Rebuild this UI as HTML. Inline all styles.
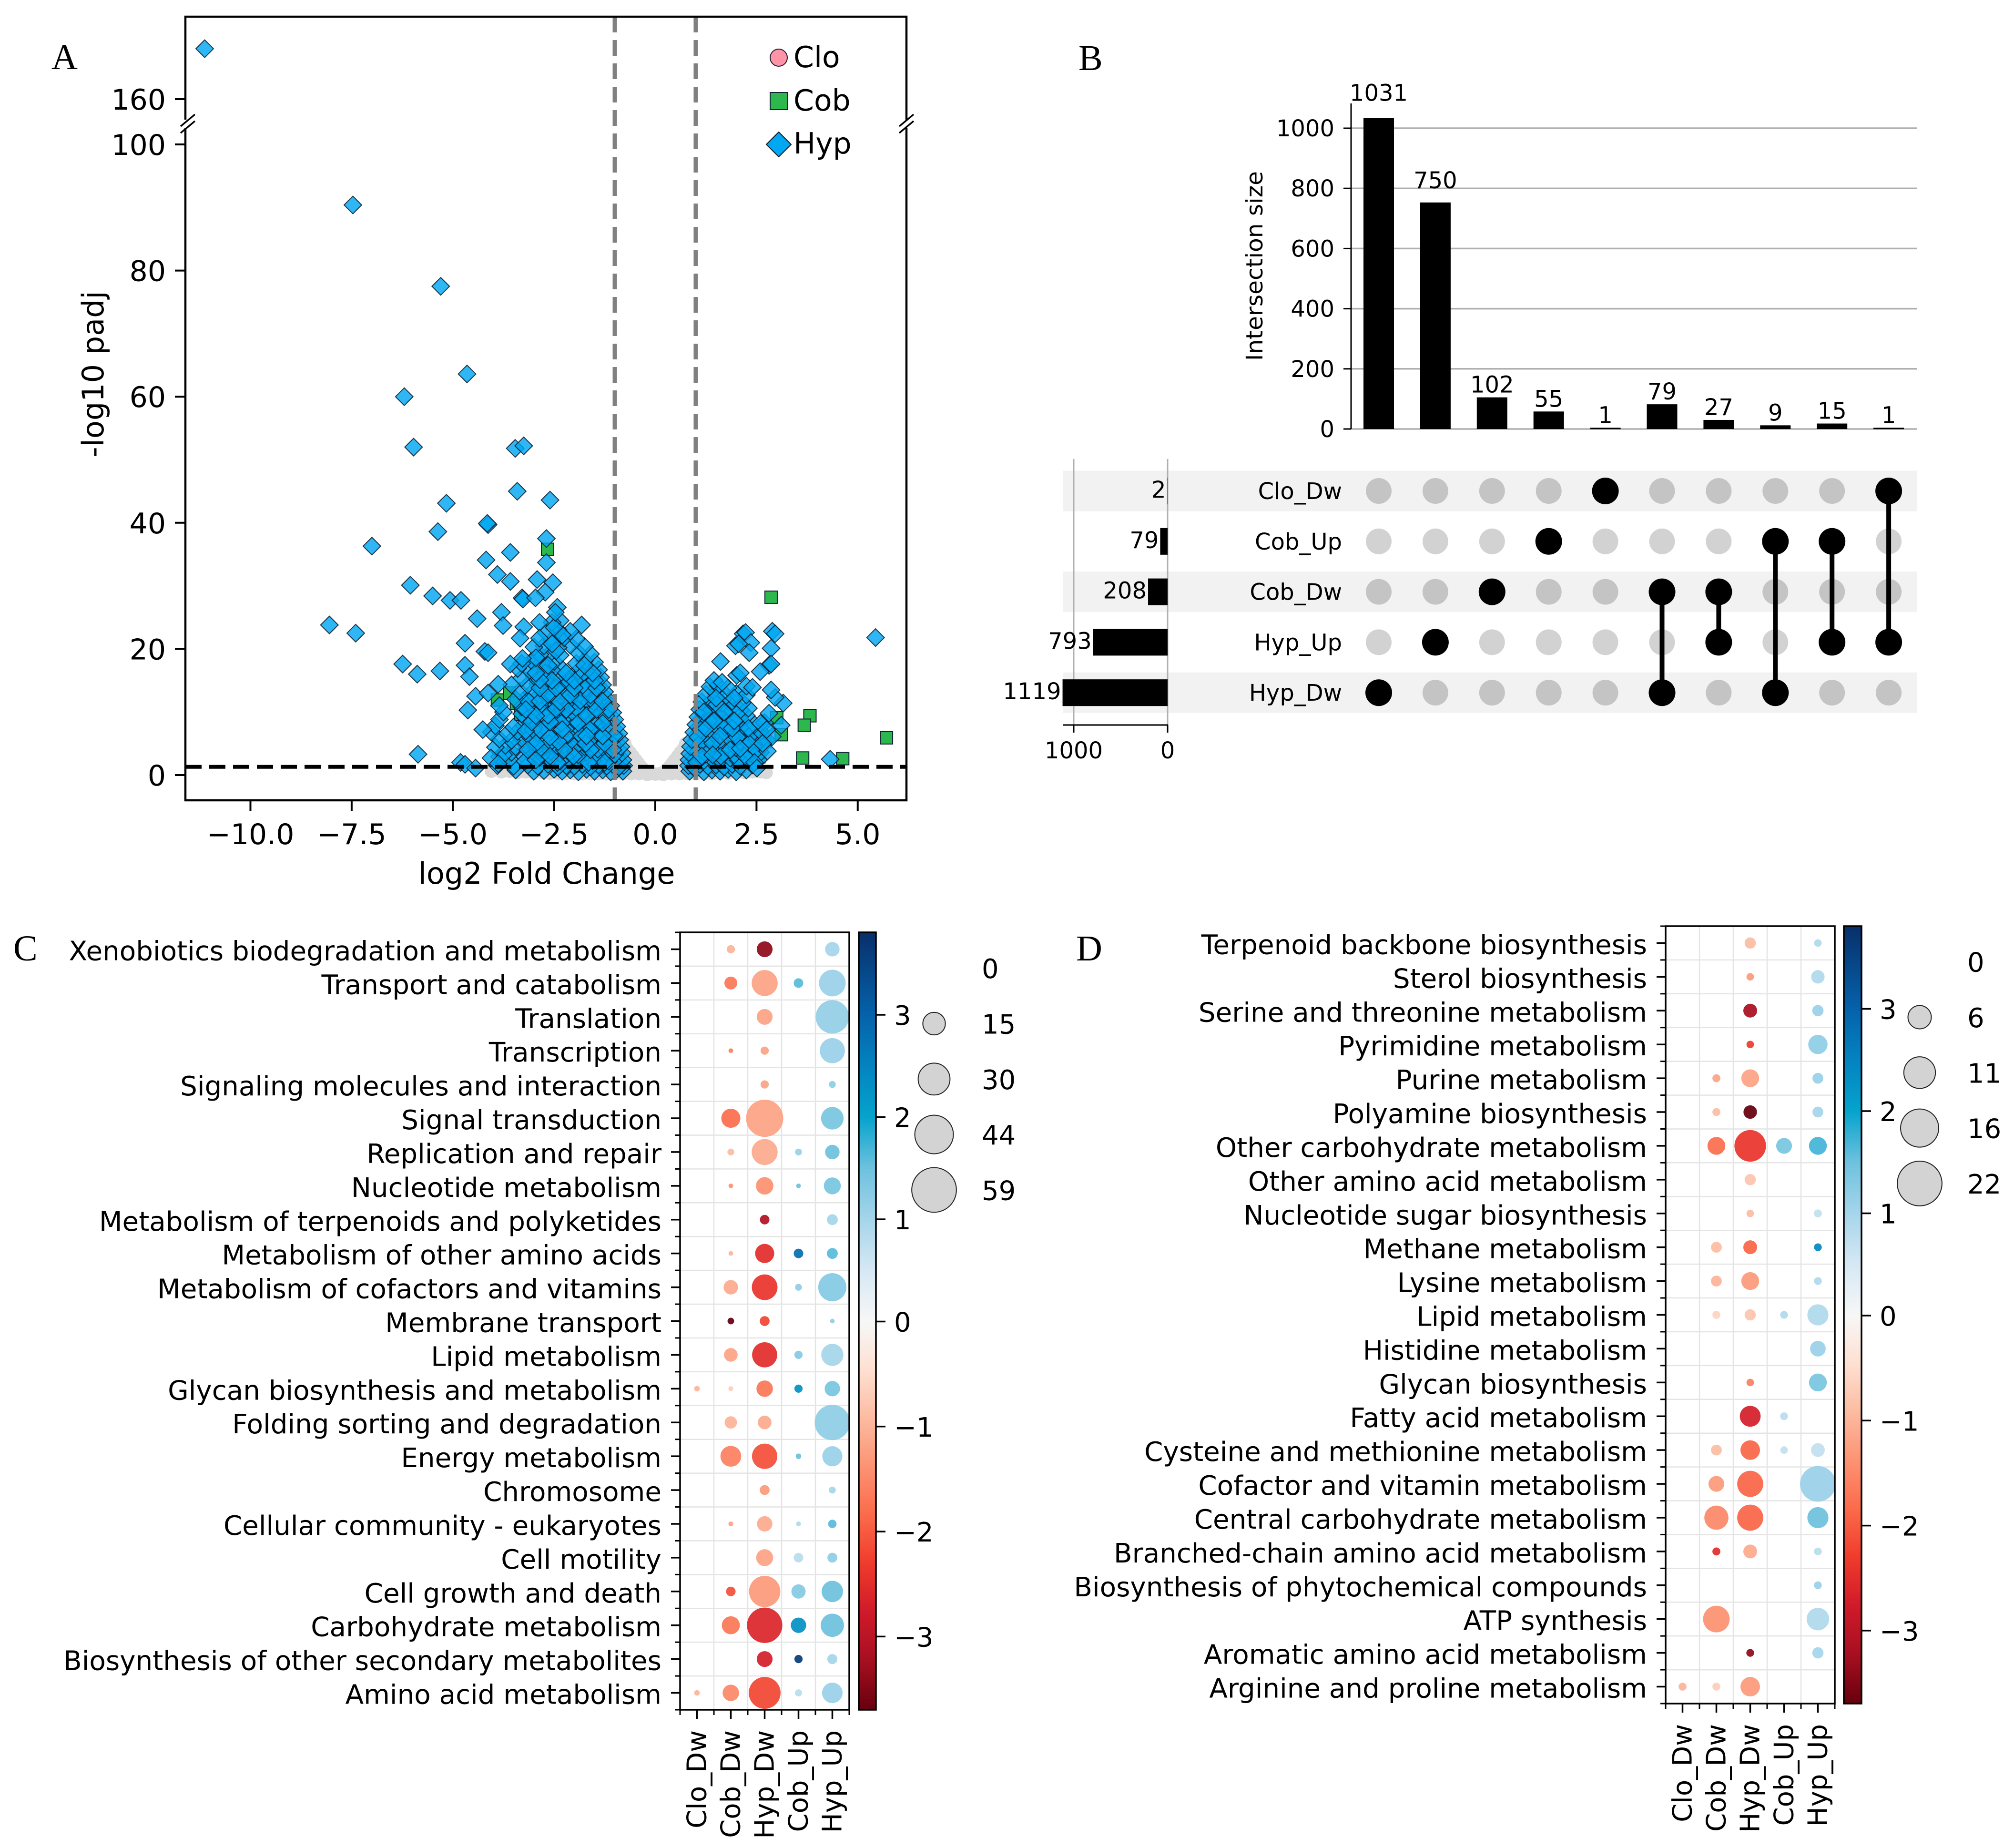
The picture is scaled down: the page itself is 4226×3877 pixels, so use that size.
<!DOCTYPE html>
<html lang="en">
<head>
<meta charset="utf-8">
<title>Differential expression figure</title>
<style>
html,body{margin:0;padding:0;background:#fff;}
svg{display:block;font-family:"DejaVu Sans","Liberation Sans",sans-serif;fill:#000;}
.serif{font-family:"Liberation Serif",serif;}
</style>
</head>
<body>
<svg id="fig" xmlns="http://www.w3.org/2000/svg" width="4226" height="3877" viewBox="0 0 4226 3877">
<rect x="0" y="0" width="4226" height="3877" fill="#fff"/>
<defs>
<clipPath id="clipC"><rect x="1427" y="1956" width="355" height="1631"/></clipPath>
<clipPath id="clipD"><rect x="3495" y="1943" width="355" height="1631"/></clipPath>
</defs>
<text class="serif" x="108" y="145" font-size="76">A</text>
<text class="serif" x="2263" y="147" font-size="76">B</text>
<text class="serif" x="28" y="2015" font-size="76">C</text>
<text class="serif" x="2258" y="2015" font-size="76">D</text>
<text x="1147" y="1854" font-size="62" text-anchor="middle">log2 Fold Change</text>
<text transform="translate(217 785) rotate(-90)" font-size="62" text-anchor="middle">-log10 padj</text>
<text transform="translate(2649 558) rotate(-90)" font-size="48.5" text-anchor="middle">Intersection size</text>
<g id="panelA"></g>
<g id="panelB"></g>
<g id="panelC"></g>
<g id="panelD"></g>
</svg>
<script>
// ---------- Panel A data ----------
const volcanoXTicks = [-10, -7.5, -5, -2.5, 0, 2.5, 5];
const volcanoXTickLabels = ['\u221210.0', '\u22127.5', '\u22125.0', '\u22122.5', '0.0', '2.5', '5.0'];
const volcanoYTicks = [0, 20, 40, 60, 80, 100];
const volcanoTopTicks = [160];
const volcanoFcCutoffs = [-1, 1];
const volcanoPadjCutoff = [1.3];
const hypTopPoints = [[-11.13, 168]];
const grayPoints = [[-0.95,5.4],[-0.9,4.6],[-0.85,3.8],[-0.75,5],[-0.7,4.2],[-0.62,3.6],[-0.55,3],[-0.48,2.4],[-0.42,1.9],[-0.36,1.4],[-0.3,1],[-0.25,0.7],[-0.2,0.4],[-0.1,0.2],[0,0.15],[0.1,0.2],[0.2,0.4],[0.25,0.7],[0.3,1],[0.36,1.4],[0.42,1.9],[0.48,2.4],[0.55,3],[0.62,3.6],[0.7,4.2],[0.75,5],[0.85,3.8],[0.9,4.6],[0.95,5.4],[-0.7,2.3],[-0.6,1.7],[-0.5,1.2],[0.7,2.3],[0.6,1.7],[0.5,1.2],
[-4.05,0.6],[-3.8,0.5],[-3.6,0.6],[-3.4,0.4],[-3.2,0.5],[-3,0.3],[-2.8,0.4],[-2.6,0.3],[-2.4,0.3],[-2.2,0.3],[-2,0.2],[-1.8,0.2],[-1.6,0.2],[-1.4,0.2],[-1.2,0.2],[-1,0.2],[-0.8,0.2],[-0.6,0.2],[-0.4,0.2],[-0.2,0.1],[0.2,0.1],[0.4,0.2],[0.6,0.2],[0.8,0.2],[1,0.2],[1.2,0.2],[1.4,0.2],[1.6,0.3],[1.8,0.3],[2,0.4],[2.2,0.4],[2.4,0.5],[2.6,0.5],[2.74,0.4]];
const cobPoints = [[-2.66,35.8],[2.86,28.2],[3.82,9.4],[3.68,7.9],[3,9.1],[3.11,6.4],[5.71,5.9],[3.64,2.7],[4.63,2.6],[2.56,6.6],[2.56,2.9],[-3.6,13],[-3.43,11.4],[-3.32,9.6],[-3.76,2.9],[-3.9,11.9],[2.7,5.4]];
const hypOutliers = [[-7.47,90.4],[-5.3,77.5],[-4.65,63.6],[-6.2,60],[-5.97,52],[-3.46,51.8],[-3.25,52.2],[-3.41,45],[-2.6,43.6],[-5.16,43.1],[-4.13,39.7],[-4.15,39.9],[-5.37,38.6],[-2.69,37.5],[-7,36.3],[-3.58,35.3],[-4.18,34.1],[-2.69,33.7],[-3.9,31.8],[-2.92,31],[-3.58,30.7],[-2.53,30.5],[-6.05,30.1],[-2.72,29],[-5.5,28.4],[-3.29,28.1],[-3.27,27.9],[-2.96,28.1],[-5.07,27.7],[-4.8,27.7],[-2.42,26.6],[-2.47,25.8],[-3.8,25.8],[-4.4,24.8],[-8.05,23.8],[-7.4,22.5],[-1.82,23.8],[-4.7,20.9],[-4.21,19.6],[-4.13,19.4],[-6.24,17.6],[-5.88,16],[-5.32,16.5],[-4.7,17.4],[-4.59,15.6],[-4.44,12.5],[-4.13,13],[-3.88,14.4],[-4.63,10.3],[-4.26,7.2],[-3.76,23.7],[-3.25,23.5],[-3.34,21.7],[-2.86,24.2],[-2.86,21.7],[-3.58,17.6],[-3.28,18.5],[-5.86,3.3],[-4.81,2],[-4.7,1.7],[-4.44,1.1],[-4.06,2.7],[-3.88,1.8],
[1.61,18],[2.17,22.4],[2.23,22.6],[1.98,20.5],[2.36,21],[2.32,19.4],[2.89,22.8],[2.96,22.4],[2.86,20.1],[2.81,17.4],[2.86,17.6],[2.59,16.4],[2.01,15.8],[2.1,16.2],[5.44,21.8],[4.32,2.5],[3.16,11.4],[2.96,12.3],[2.86,13.5],[2.81,9.8],[3.11,7.9],[2.89,6.1],[2.77,3.8],[2.51,1.1],[2.06,20.8],[2.6,8.2],[2.75,7.2],[2.65,5]];
const hypLeftCloud = [
[-0.8,0.6],[-0.95,0.9],[-1.1,0.5],[-1.3,0.8],[-1.5,0.6],[-1.7,0.9],[-1.9,0.5],[-2.1,0.8],[-2.3,0.6],[-2.5,0.9],[-2.75,0.7],[-3,0.6],[-3.45,0.8],
[-0.78,1.5],[-0.9,1.3],[-1.05,1.7],[-1.2,1.4],[-1.4,1.6],[-1.6,1.3],[-1.8,1.7],[-2,1.4],[-2.2,1.5],[-2.4,1.3],[-2.65,1.7],[-2.9,1.4],[-3.15,1.6],[-3.5,1.4],[-3.9,1.5],
[-0.8,2.4],[-0.95,2.7],[-1.15,2.2],[-1.35,2.5],[-1.55,2.3],[-1.75,2.7],[-1.95,2.4],[-2.15,2.6],[-2.35,2.2],[-2.6,2.5],[-2.85,2.8],[-3.6,2.5],[-3.85,2.9],
[-0.82,3.5],[-1,3.3],[-1.2,3.7],[-1.45,3.4],[-1.7,3.6],[-1.9,3.2],[-2.1,3.7],[-2.35,3.4],[-2.55,3.6],[-2.8,3.3],[-3.05,3.7],[-3.3,3.4],[-3.55,3.6],[-3.75,3.2],
[-0.85,4.5],[-1.05,4.8],[-1.3,4.4],[-1.5,4.7],[-1.75,4.5],[-2,4.3],[-2.25,4.8],[-2.45,4.5],[-2.7,4.6],[-2.95,4.3],[-3.2,4.8],[-3.45,4.5],[-3.7,4.7],[-3.95,4.4],
[-0.88,5.6],[-1.1,5.4],[-1.35,5.8],[-1.6,5.5],[-1.85,5.7],[-2.1,5.3],[-2.3,5.8],[-2.55,5.5],[-2.8,5.6],[-3.05,5.3],[-3.3,5.8],[-3.55,5.5],[-3.85,5.7],
[-0.9,6.6],[-1.15,6.9],[-1.4,6.5],[-1.65,6.8],[-1.9,6.6],[-2.15,6.4],[-2.4,6.9],[-2.65,6.6],[-2.9,6.7],[-3.15,6.4],[-3.4,6.9],[-3.65,6.6],[-4.05,6.8],
[-0.95,7.7],[-1.2,7.5],[-1.45,7.9],[-1.7,7.6],[-1.95,7.8],[-2.2,7.4],[-2.45,7.9],[-2.75,7.7],[-3,7.6],[-3.25,7.9],[-3.5,7.6],[-3.95,7.8],
[-1,8.8],[-1.25,9],[-1.5,8.6],[-1.75,8.9],[-2,8.7],[-2.25,9.1],[-2.5,8.8],[-2.7,8.9],[-2.95,8.6],[-3.2,9],[-3.85,8.8],
[-1.05,9.9],[-1.3,9.7],[-1.55,10.1],[-1.8,9.8],[-2.05,10],[-2.3,9.7],[-2.55,10.1],[-2.8,9.8],[-3.05,10],[-3.3,9.7],[-3.75,10],
[-1.1,11],[-1.35,11.2],[-1.6,10.9],[-1.85,11.2],[-2.1,11],[-2.35,10.8],[-2.6,11.2],[-2.85,11],[-3.1,11.1],[-3.3,10.8],[-3.85,11],
[-1.2,12.1],[-1.45,12.3],[-1.7,12],[-1.95,12.3],[-2.2,12.1],[-2.45,11.9],[-2.7,12.3],[-2.95,12.1],[-3.2,12.2],[-3.45,12],
[-1.25,13.2],[-1.5,13],[-1.75,13.4],[-2,13.1],[-2.3,13.3],[-2.55,13],[-2.8,13.4],[-3.05,13.1],[-3.35,13.3],
[-1.3,14.3],[-1.55,14.5],[-1.8,14.2],[-2.05,14.5],[-2.35,14.3],[-2.6,14.1],[-2.9,14.5],[-3.15,14.3],[-3.55,14.3],
[-1.35,15.5],[-1.6,15.3],[-1.85,15.7],[-2.1,15.4],[-2.4,15.6],[-2.7,15.3],[-3,15.7],[-3.3,15.4],
[-1.4,16.7],[-1.65,16.9],[-1.9,16.5],[-2.3,16.8],[-2.55,16.6],[-2.8,16.9],[-3.1,16.6],[-3.4,16.9],
[-1.5,17.9],[-1.75,18.1],[-1.95,17.7],[-2.5,18],[-2.8,17.8],[-3.05,18.1],[-3.3,17.7],
[-1.6,19.2],[-1.9,19.4],[-2.35,19],[-2.6,19.3],[-2.85,19.1],
[-1.75,20.4],[-2.1,20.6],[-2.4,20.2],[-2.75,20.5],[-3,20.3],
[-1.95,21.6],[-2.25,21.8],[-2.55,21.4],
[-2.1,22.8],[-2.4,23],[-2.7,22.6],
[-2.35,24.5],[-2.55,24.2],
[-1.42,4.1],[-2.02,3],[-2.62,5],[-1.62,7.2],[-2.32,8.2],[-2.82,4],[-1.92,10.4],[-2.52,12.6],[-1.52,11.6],[-2.12,14.8],[-3.02,7.2],[-1.02,6.2],[-1.22,9.4],[-3.22,2.2],[-2.42,2],[-2.22,6.2],[-1.72,13.8],[-2.72,16.2],[-1.82,6.2],[-3.12,11.6],
[-1.25,2],[-1.65,2],[-1.05,4],[-1.6,4],[-2.25,4],[-2.6,3],[-2.95,2.4],[-1.25,5],[-1.72,5],[-2.4,5.3],[-2.95,5],[-3.15,4],[-1.3,6.2],[-1.7,6.2],[-2.6,6],[-2.3,7.2],[-2.85,7.2],[-3.2,7],[-1.3,8.2],[-1.9,8.3],[-2.6,8.4],[-3.05,8.4],[-1.15,10.4],[-1.7,9.4],[-2.2,10.4],[-2.65,9.5],[-2.95,9.4],[-1.45,10.4],[-2.45,10.5],[-3.2,10.4],[-1.3,11.7],[-1.85,11.8],[-2.35,11.6],[-2.85,11.7],[-1.6,12.7],[-2.1,12.7],[-2.65,12.8],[-1.45,13.8],[-2,13.8],[-2.45,13.8],[-2.85,13.8],[-1.5,15],[-2,15],[-2.55,15],[-2.85,15.1],[-1.55,16.2],[-2.2,16.2],[-2.95,16.2],[-1.75,17.4],[-2.65,17.4],[-2.95,18.6],[-2.45,19.7],[-2.55,20.8],[-2.3,22.2],[-2.5,23.4]
];
const hypRightCloud = [
[0.85,0.6],[1,0.9],[1.2,0.5],[1.4,0.8],[1.6,0.6],[1.8,0.9],[2,0.5],[2.25,0.8],
[0.82,1.5],[0.95,1.3],[1.1,1.7],[1.3,1.4],[1.5,1.6],[1.7,1.3],[1.9,1.7],[2.1,1.4],[2.4,1.6],
[0.83,2.4],[1,2.7],[1.2,2.3],[1.4,2.6],[1.6,2.4],[1.85,2.7],[2.05,2.3],[2.3,2.6],[2.55,2.4],
[0.85,3.4],[1.05,3.7],[1.25,3.3],[1.5,3.6],[1.7,3.4],[1.95,3.2],[2.15,3.7],[2.35,3.4],[2.6,3.6],
[0.87,4.5],[1.1,4.8],[1.3,4.4],[1.55,4.7],[1.75,4.5],[2,4.3],[2.2,4.8],[2.4,4.5],[2.65,4.7],
[0.9,5.6],[1.15,5.4],[1.35,5.8],[1.6,5.5],[1.85,5.7],[2.1,5.3],[2.3,5.8],[2.5,5.5],[2.75,5.6],
[0.95,6.8],[1.2,7],[1.45,6.6],[1.7,6.9],[1.95,6.7],[2.2,7],[2.4,6.6],[2.6,6.9],
[1,8],[1.25,8.2],[1.5,7.8],[1.75,8.1],[2,7.9],[2.2,8.2],[2.45,8],[2.7,8.3],
[1.05,9.2],[1.3,9.4],[1.55,9],[1.8,9.3],[2.05,9.1],[2.25,9.4],
[1.1,10.4],[1.35,10.6],[1.6,10.2],[1.85,10.5],[2.1,10.3],[2.3,10.6],
[1.15,11.6],[1.4,11.8],[1.65,11.4],[1.9,11.7],[2.15,11.5],
[1.25,12.8],[1.5,13],[1.75,12.6],[2,12.9],[2.25,12.7],
[1.35,14],[1.55,14.2],[1.8,13.8],[2.25,14.1],[2.4,13.9],
[1.45,15],[1.65,14.7],
[1.02,2],[1.62,3],[2.22,3],[1.42,5],[2.02,6],[1.32,8.6],[1.72,7.6],[2.32,5],[1.52,11.2],[1.12,7.2],
[1.15,3],[1.42,3.2],[1.85,4],[2.1,4.2],[1.05,6],[1.6,6.2],[1.25,7.4],[1.9,7.4],[1.45,8.6],[1.95,8.6],[1.2,10],[1.7,10],[1.5,12.2],[1.95,12.2],[2.3,7.4],[2.5,4],[2.45,2]
];
const legendEntries = ['Clo', 'Cob', 'Hyp'];

// ---------- Panel B data ----------
const intersectionSizes = [1031, 750, 102, 55, 1, 79, 27, 9, 15, 1];
const intersectionMembers = [[4], [3], [2], [1], [0], [2, 4], [2, 3], [1, 4], [1, 3], [0, 3]];
const setNames = ['Clo_Dw', 'Cob_Up', 'Cob_Dw', 'Hyp_Up', 'Hyp_Dw'];
const setSizes = [2, 79, 208, 793, 1119];
const upsetYTicks = [0, 200, 400, 600, 800, 1000];
const upsetSetTicks = [1000, 0];

// ---------- Panels C and D data ----------
const bubbleColumns = ['Clo_Dw', 'Cob_Dw', 'Hyp_Dw', 'Cob_Up', 'Hyp_Up'];
const colorbarTicks = [3, 2, 1, 0, -1, -2, -3];
const colorbarStopValues = [3.8, 3, 2.5, 2, 1.5, 1, 0.5, 0, -0.46, -0.92, -1.39, -1.85, -2.31, -2.77, -3.24, -3.7];
const colorbarStopColors = ['#08306b', '#0562aa', '#0483c0', '#05a3cc', '#6ec1de', '#a5d5ea', '#d6e8f4', '#f7f7f7', '#fee0d2', '#fcbba1', '#fc9272', '#fb6a4a', '#ef3b2c', '#cf1a2a', '#a50f20', '#67000d'];

const cPathways = ['Xenobiotics biodegradation and metabolism', 'Transport and catabolism', 'Translation', 'Transcription', 'Signaling molecules and interaction', 'Signal transduction', 'Replication and repair', 'Nucleotide metabolism', 'Metabolism of terpenoids and polyketides', 'Metabolism of other amino acids', 'Metabolism of cofactors and vitamins', 'Membrane transport', 'Lipid metabolism', 'Glycan biosynthesis and metabolism', 'Folding sorting and degradation', 'Energy metabolism', 'Chromosome', 'Cellular community - eukaryotes', 'Cell motility', 'Cell growth and death', 'Carbohydrate metabolism', 'Biosynthesis of other secondary metabolites', 'Amino acid metabolism'];
const cCounts = [
[0,2,7.4,0,6.2],[0,4.9,20,2.7,21],[0,0,7.4,0,33],[0,0.64,2,0,18.7],[0,0,2,0,1.4],[0,10.8,41,0,15],[0,1.4,20,1.4,6.2],[0,0.64,9,0.64,8.5],[0,0,2.7,0,3.5],[0,0.64,10.8,2.7,3.5],[0,6.2,19.5,1.4,23.5],[0,1.3,2.9,0,0.64],[0,5.5,18.7,2,14.5],[0.9,0.7,8,2,7],[0,4.5,5.5,0,37],[0,12.8,19,0.9,12],[0,0,2.9,0,1.4],[0,0.7,7,0.7,2.1],[0,0,8.5,2.7,2.9],[0,2.7,29,6,13.5],[0,9.6,37,7,16],[0,0,7.4,2,3],[0.9,8,30,1.5,12.5]];
const cValues = [
[0,-1,-3.4,0,1],[0,-1.7,-1.2,1.6,1.1],[0,0,-1.2,0,1.15],[0,-1.6,-1.2,0,1.1],[0,0,-1.2,0,1.2],[0,-1.8,-1.2,0,1.4],[0,-0.9,-1.1,1.1,1.5],[0,-1.4,-1.4,1.5,1.4],[0,0,-3.1,0,1],[0,-1,-2.5,2.8,1.6],[0,-1.1,-2.4,1.2,1.3],[0,-3.7,-2.2,0,1.2],[0,-1.2,-2.5,1.3,1],[-1,-0.7,-1.7,2.3,1.4],[0,-1,-1.1,0,1.2],[0,-1.6,-2.1,1.5,1.1],[0,0,-1.3,0,1],[0,-1.2,-1.1,0.9,1.6],[0,0,-1.2,0.8,1.2],[0,-2.1,-1.3,1.3,1.5],[0,-1.7,-2.6,2.3,1.5],[0,0,-2.7,3.6,1],[-1,-1.5,-2.2,0.8,1.1]];

const dPathways = ['Terpenoid backbone biosynthesis', 'Sterol biosynthesis', 'Serine and threonine metabolism', 'Pyrimidine metabolism', 'Purine metabolism', 'Polyamine biosynthesis', 'Other carbohydrate metabolism', 'Other amino acid metabolism', 'Nucleotide sugar biosynthesis', 'Methane metabolism', 'Lysine metabolism', 'Lipid metabolism', 'Histidine metabolism', 'Glycan biosynthesis', 'Fatty acid metabolism', 'Cysteine and methionine metabolism', 'Cofactor and vitamin metabolism', 'Central carbohydrate metabolism', 'Branched-chain amino acid metabolism', 'Biosynthesis of phytochemical compounds', 'ATP synthesis', 'Aromatic amino acid metabolism', 'Arginine and proline metabolism'];
const dCounts = [
[0,0,1.4,0,0.62],[0,0,0.62,0,2],[0,0,2.1,0,1.4],[0,0,0.62,0,4.1],[0,0.7,3.5,0,1.3],[0,0.7,2,0,1.3],[0,3.5,11,2.75,3.5],[0,0,1.4,0,0],[0,0,0.62,0,0.7],[0,1.3,2.1,0,0.67],[0,1.3,3.5,0,0.67],[0,0.7,1.4,0.67,4.9],[0,0,0,0,2.7],[0,0,0.62,0,3.5],[0,0,4.8,0.67,0],[0,1.3,4.2,0.62,2.1],[0,2.75,7.5,0,14],[0,6.4,7.5,0,4.9],[0,0.7,2.1,0,0.67],[0,0,0,0,0.67],[0,7.8,0,0,5.6],[0,0,0.67,0,1.4],[0.7,0.7,4.2,0,0]];
const dValues = [
[0,0,-0.9,0,0.9],[0,0,-1.3,0,0.9],[0,0,-3.2,0,1.1],[0,0,-2.3,0,1.2],[0,-1.2,-1.2,0,1.1],[0,-0.9,-3.7,0,1],[0,-1.8,-2.4,1.4,1.7],[0,0,-0.8,0,0],[0,0,-0.9,0,0.7],[0,-0.9,-1.9,0,2.4],[0,-1,-1.3,0,0.9],[0,-0.6,-0.8,0.9,0.9],[0,0,0,0,1.1],[0,0,-1.6,0,1.4],[0,0,-2.7,0.8,0],[0,-0.9,-1.9,0.7,0.7],[0,-1.3,-1.9,0,1.1],[0,-1.5,-1.9,0,1.5],[0,-2.5,-1.1,0,0.8],[0,0,0,0,1.1],[0,-1.4,0,0,0.9],[0,0,-3.4,0,1],[-1,-0.7,-1.3,0,0]];

const cSizeLegendValues = [15, 30, 44, 59];
const cSizeLegendLabels = ['0', '15', '30', '44', '59'];
const dSizeLegendValues = [6, 11, 16, 22];
const dSizeLegendLabels = ['0', '6', '11', '16', '22'];

// ---------- Helpers ----------
const NS = 'http://www.w3.org/2000/svg';
function make(tag, parent, attrs, txt) {
  const e = document.createElementNS(NS, tag);
  for (const k in attrs) e.setAttribute(k, attrs[k]);
  if (txt !== undefined) e.textContent = txt;
  parent.appendChild(e);
  return e;
}
function hexToRgb(h) { return [parseInt(h.slice(1, 3), 16), parseInt(h.slice(3, 5), 16), parseInt(h.slice(5, 7), 16)]; }
function valueColor(v) {
  const vals = colorbarStopValues, cols = colorbarStopColors;
  if (v >= vals[0]) return cols[0];
  for (let i = 1; i < vals.length; i++) {
    if (v >= vals[i]) {
      const t = (v - vals[i]) / (vals[i - 1] - vals[i]);
      const a = hexToRgb(cols[i]), b = hexToRgb(cols[i - 1]);
      return 'rgb(' + a.map((c, j) => Math.round(c + (b[j] - c) * t)).join(',') + ')';
    }
  }
  return cols[cols.length - 1];
}

// ---------- Panel A ----------
(function () {
  const root = document.getElementById('panelA');
  const xA = v => 1375 + v * 84.95;
  const yA = v => 1626 - v * 13.23;
  const yTop = v => 208 - (v - 160) * 13.23;
  const L = 389, R = 1902, T = 35, B = 1679, BR = 260;

  grayPoints.forEach(p => {
    const c = make('circle', root, { cx: xA(p[0]), cy: yA(p[1]), r: 14, fill: '#d9d9d9' });
    
    
  });
  cobPoints.forEach(p => {
    const x = xA(p[0]), y = yA(p[1]);
    const s = make('rect', root, { x: x - 13, y: y - 13, width: 26, height: 26, fill: '#2db84d', stroke: '#123', 'stroke-width': 2 });
    
    
  });
  function diamond(p, yf, name) {
    const x = xA(p[0]), y = yf(p[1]), r = 18.5;
    const d = make('polygon', root, { points: [x, y - r, x + r, y, x, y + r, x - r, y].join(' '), fill: '#00a7f2', 'fill-opacity': 0.82, stroke: '#0a1a2c', 'stroke-width': 2, 'stroke-opacity': 0.85 });
    
    
  }
  hypLeftCloud.forEach(p => diamond(p, yA, 'volcano-hyp-point'));
  hypRightCloud.forEach(p => diamond(p, yA, 'volcano-hyp-point'));
  hypOutliers.forEach(p => diamond(p, yA, 'volcano-hyp-outlier'));
  hypTopPoints.forEach(p => diamond(p, yTop, 'volcano-hyp-top-outlier'));

  volcanoFcCutoffs.forEach(v => {
    const l = make('line', root, { x1: xA(v), x2: xA(v), y1: T, y2: B, stroke: '#808080', 'stroke-width': 9, 'stroke-dasharray': '33 16' });
    
    
  });
  volcanoPadjCutoff.forEach(v => {
    const l = make('line', root, { x1: L, x2: R, y1: yA(v), y2: yA(v), stroke: '#000', 'stroke-width': 8, 'stroke-dasharray': '34 16' });
    
    
  });

  const spines = make('path', root, { d: `M${L} ${BR - 9}V${T}H${R}V${BR - 9}M${L} ${BR + 9}V${B}H${R}V${BR + 9}`, fill: 'none', stroke: '#000', 'stroke-width': 4.5 });
  
  
  [L + 5, R].forEach(x => {
    const mark = make('path', root, { d: `M${x - 15} ${BR + 5}L${x + 15} ${BR - 20}M${x - 15} ${BR + 19}L${x + 15} ${BR - 6}`, fill: 'none', stroke: '#000', 'stroke-width': 3.5 });
    
    
  });

  volcanoXTicks.forEach((v, i) => {
    const t = make('line', root, { x1: xA(v), x2: xA(v), y1: B, y2: B + 22, stroke: '#000', 'stroke-width': 4 });
    
    
    const lab = make('text', root, { x: xA(v), y: 1771, 'font-size': 60, 'text-anchor': 'middle' }, volcanoXTickLabels[i]);
    
    
  });
  function yTick(y, label) {
    const t = make('line', root, { x1: L - 22, x2: L, y1: y, y2: y, stroke: '#000', 'stroke-width': 4 });
    
    
    const lab = make('text', root, { x: L - 41, y: y + 22, 'font-size': 60, 'text-anchor': 'end' }, label);
    
    
  }
  volcanoYTicks.forEach(v => yTick(yA(v), String(v)));
  volcanoTopTicks.forEach(v => yTick(yTop(v), String(v)));

  const lx = 1634;
  const m1 = make('circle', root, { cx: lx, cy: 121, r: 18, fill: '#ff93a8', stroke: '#223', 'stroke-width': 2 });
  
  
  const m2 = make('rect', root, { x: lx - 18, y: 194, width: 36, height: 36, fill: '#2db84d', stroke: '#123', 'stroke-width': 2 });
  
  
  const m3 = make('polygon', root, { points: [lx, 277, lx + 26, 303, lx, 329, lx - 26, 303].join(' '), fill: '#00a7f2', stroke: '#0a1a2c', 'stroke-width': 2 });
  
  
  const baselines = [141, 232, 322];
  legendEntries.forEach((t, i) => {
    const lab = make('text', root, { x: 1665, y: baselines[i], 'font-size': 61.5 }, t);
    
    
  });
})();

// ---------- Panel B ----------
(function () {
  const root = document.getElementById('panelB');
  const yB = v => 900 - v * 0.631;
  const colX = i => 2893 + i * 118.9;
  const rowY = i => 1030 + i * 105.8;
  const xSet = v => 2450 - v * 0.197;

  [0, 2, 4].forEach(i => {
    const s = make('rect', root, { x: 2230, y: rowY(i) - 42.5, width: 1793, height: 85, fill: '#f2f2f2' });
    
    
  });
  upsetYTicks.forEach(v => {
    const g = make('line', root, { x1: 2835, x2: 4023, y1: yB(v), y2: yB(v), stroke: '#b0b0b0', 'stroke-width': 3.5 });
    
    
    const t = make('line', root, { x1: 2819, x2: 2835, y1: yB(v), y2: yB(v), stroke: '#000', 'stroke-width': 3 });
    
    
    const lab = make('text', root, { x: 2800, y: yB(v) + 17, 'font-size': 48, 'text-anchor': 'end' }, String(v));
    
    
  });
  const ax = make('line', root, { x1: 2835, x2: 2835, y1: 217, y2: 900, stroke: '#000', 'stroke-width': 3 });
  
  

  intersectionSizes.forEach((v, i) => {
    const b = make('rect', root, { x: colX(i) - 32, y: yB(v) - 2, width: 64, height: Math.max(900 - yB(v) + 2, 3), fill: '#000' });
    
    
    const gap = v > 1000 ? 38 : v > 500 ? 32 : 12;
    const lab = make('text', root, { x: colX(i), y: yB(v) - gap, 'font-size': 48, 'text-anchor': 'middle' }, String(v));
    
    
  });

  upsetSetTicks.forEach(v => {
    const g = make('line', root, { x1: xSet(v), x2: xSet(v), y1: 963, y2: 1521, stroke: '#b0b0b0', 'stroke-width': 3 });
    
    
  });
  setSizes.forEach((v, i) => {
    const b = make('rect', root, { x: xSet(v), y: rowY(i) - 28, width: 2450 - xSet(v), height: 56, fill: '#000' });
    
    
    const lab = make('text', root, { x: xSet(v) - 3, y: rowY(i) + 14, 'font-size': 48, 'text-anchor': 'end' }, String(v));
    
    
  });
  const sax = make('line', root, { x1: 2230, x2: 2451, y1: 1521, y2: 1521, stroke: '#000', 'stroke-width': 3 });
  
  
  upsetSetTicks.forEach(v => {
    const t = make('line', root, { x1: xSet(v), x2: xSet(v), y1: 1521, y2: 1537, stroke: '#000', 'stroke-width': 3 });
    
    
    const lab = make('text', root, { x: xSet(v), y: 1591, 'font-size': 48, 'text-anchor': 'middle' }, String(v));
    
    
  });

  setNames.forEach((n, i) => {
    const lab = make('text', root, { x: 2816, y: rowY(i) + 17, 'font-size': 48, 'text-anchor': 'end' }, n);
    
    
  });
  intersectionSizes.forEach((v, c) => {
    setNames.forEach((n, r) => {
      const on = intersectionMembers[c].indexOf(r) >= 0;
      const d = make('circle', root, { cx: colX(c), cy: rowY(r), r: on ? 28 : 27, fill: on ? '#000' : (r % 2 === 0 ? '#c4c4c4' : '#d2d2d2') });
      
      
    });
  });
  intersectionMembers.forEach((m, c) => {
    if (m.length < 2) return;
    const l = make('line', root, { x1: colX(c), x2: colX(c), y1: rowY(m[0]), y2: rowY(m[m.length - 1]), stroke: '#000', 'stroke-width': 10 });
    
    
  });
})();

// ---------- Panels C and D ----------
function drawBubbles(rootId, clipId, L, T, pathways, counts, values, k, cb0, sizeVals, sizeLabels, sizeCx, sizeTop, sizeLabelX, cbX, cbW, tickLabelX, xLabelY, gradId) {
  const root = document.getElementById(rootId);
  const W = 355, H = 1631, step = 71, rowH = H / pathways.length;
  const xC = i => L + step * (i + 0.5);
  const yR = i => T + rowH * (i + 0.5);
  const yCb = v => v >= 0 ? cb0 - 214.5 * v : cb0 - 220.3 * v;
  const dia = n => k * Math.sqrt(n);

  for (let i = 1; i < bubbleColumns.length; i++) {
    const g = make('line', root, { x1: L + i * step, x2: L + i * step, y1: T, y2: T + H, stroke: '#e4e4e4', 'stroke-width': 2.5 });
    
    
  }
  for (let i = 1; i < pathways.length; i++) {
    const g = make('line', root, { x1: L, x2: L + W, y1: T + i * rowH, y2: T + i * rowH, stroke: '#e4e4e4', 'stroke-width': 2.5 });
    
    
  }
  const dots = make('g', root, { 'clip-path': 'url(#' + clipId + ')' });
  
  
  counts.forEach((row, r) => {
    row.forEach((n, c) => {
      if (!n) return;
      const d = make('circle', dots, { cx: xC(c), cy: yR(r), r: dia(n) / 2, fill: valueColor(values[r][c]), 'fill-opacity': 0.93 });
      
      
    });
  });
  const frame = make('rect', root, { x: L, y: T, width: W, height: H, fill: 'none', stroke: '#000', 'stroke-width': 3.5 });
  
  

  pathways.forEach((name, i) => {
    const t = make('line', root, { x1: L - 19, x2: L, y1: yR(i), y2: yR(i), stroke: '#000', 'stroke-width': 3.5 });
    
    
    const lab = make('text', root, { x: L - 39, y: yR(i) + 23, 'font-size': 56.3, 'text-anchor': 'end' }, name);
    
    
  });
  for (let i = 0; i <= pathways.length; i++) {
    const t = make('line', root, { x1: L - 11, x2: L, y1: T + i * rowH, y2: T + i * rowH, stroke: '#000', 'stroke-width': 3 });
    
    
  }
  bubbleColumns.forEach((name, i) => {
    const t = make('line', root, { x1: xC(i), x2: xC(i), y1: T + H, y2: T + H + 19, stroke: '#000', 'stroke-width': 3.5 });
    
    
    const lab = make('text', root, { transform: `translate(${xC(i) + 19} ${xLabelY}) rotate(-90)`, 'font-size': 56, 'text-anchor': 'end' }, name);
    
    
  });
  for (let i = 0; i <= bubbleColumns.length; i++) {
    const t = make('line', root, { x1: L + i * step, x2: L + i * step, y1: T + H, y2: T + H + 11, stroke: '#000', 'stroke-width': 3 });
    
    
  }

  const grad = make('linearGradient', root, { id: gradId, gradientUnits: 'userSpaceOnUse', x1: 0, x2: 0, y1: yCb(3.8), y2: yCb(-3.7) });
  colorbarStopValues.forEach((v, i) => {
    make('stop', grad, { offset: (yCb(v) - yCb(3.8)) / (yCb(-3.7) - yCb(3.8)), 'stop-color': colorbarStopColors[i] });
  });
  const cb = make('rect', root, { x: cbX, y: T, width: cbW, height: H, fill: 'url(#' + gradId + ')', stroke: '#000', 'stroke-width': 3.5 });
  
  
  colorbarTicks.forEach(v => {
    const t = make('line', root, { x1: cbX + cbW, x2: cbX + cbW + 20, y1: yCb(v), y2: yCb(v), stroke: '#000', 'stroke-width': 3.5 });
    
    
    const lab = make('text', root, { x: tickLabelX, y: yCb(v) + 21, 'font-size': 56 }, v < 0 ? '\u2212' + Math.abs(v) : String(v));
    
    
  });

  const first = make('text', root, { x: sizeLabelX, y: sizeTop - 116.3 + 21, 'font-size': 56 }, sizeLabels[0]);
  
  
  sizeVals.forEach((n, i) => {
    const y = sizeTop + i * 116.3;
    const c = make('circle', root, { cx: sizeCx, cy: y, r: dia(n) / 2, fill: '#d3d3d3', stroke: '#222', 'stroke-width': 2 });
    
    
    const lab = make('text', root, { x: sizeLabelX, y: y + 21, 'font-size': 56 }, sizeLabels[i + 1]);
    
    
  });
}
drawBubbles('panelC', 'clipC', 1427, 1956, cPathways, cCounts, cValues, 12.2, 2772.5, cSizeLegendValues, cSizeLegendLabels, 1960, 2147.5, 2060, 1802, 36, 1876, 3630, 'cbGradC');
drawBubbles('panelD', 'clipD', 3495, 1943, dPathways, dCounts, dValues, 20, 2760, dSizeLegendValues, dSizeLegendLabels, 4028, 2134, 4128, 3869, 37, 3944, 3617, 'cbGradD');
</script>
</body>
</html>
